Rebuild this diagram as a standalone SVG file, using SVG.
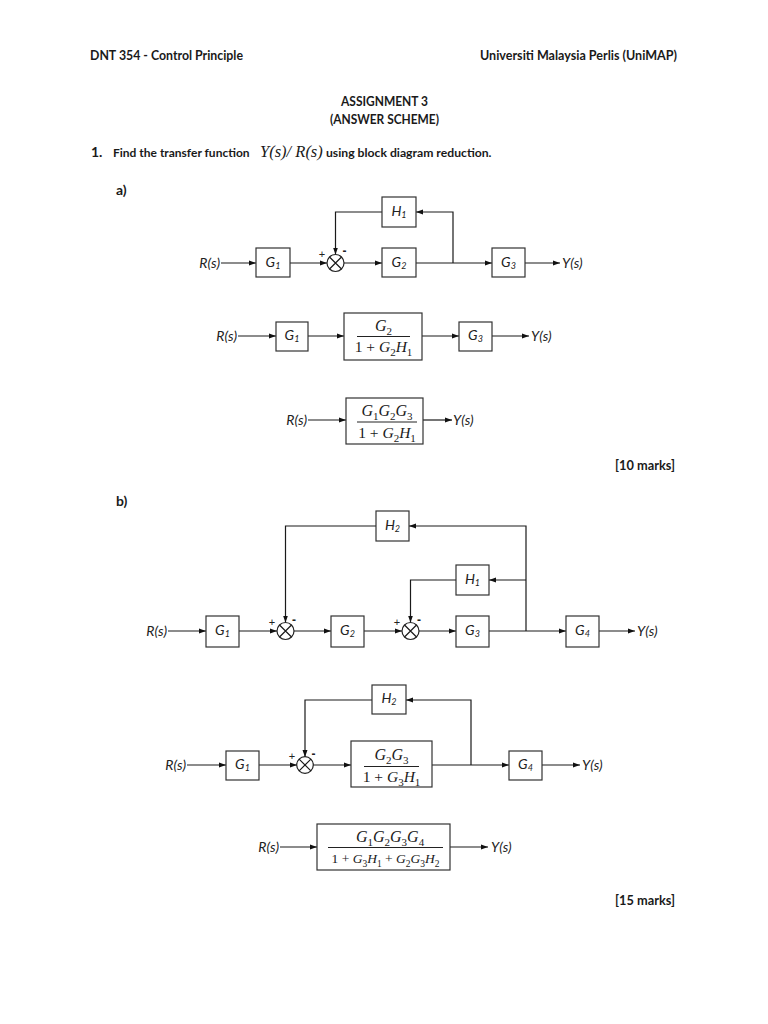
<svg xmlns="http://www.w3.org/2000/svg" width="768" height="1024" viewBox="0 0 768 1024">
<style>
.hd{font-family:Lato,"Open Sans","Liberation Sans",sans-serif;font-weight:bold;font-size:14px;fill:#1a1a1a}
.lb{font-family:Lato,"Open Sans","Liberation Sans",sans-serif;font-style:italic;font-size:14px;fill:#222}
.sg{font-family:"Liberation Sans",sans-serif;font-size:11px;fill:#222}
.mi{font-family:"Liberation Sans",sans-serif;font-size:12px;font-weight:bold;fill:#222}
.mt{font-family:"Liberation Serif",serif;font-size:16px;fill:#1a1a1a}
.it{font-style:italic}
.box{fill:#fff;stroke:#333;stroke-width:1.2}
.sum{fill:#fff;stroke:#222;stroke-width:1.2}
.ln{fill:none;stroke:#1a1a1a;stroke-width:1.2}
.fr{stroke:#222;stroke-width:1}
</style>
<defs>
<marker id="ah" viewBox="0 0 7 6" refX="7" refY="3" markerWidth="7" markerHeight="6" orient="auto" markerUnits="userSpaceOnUse"><path d="M0,0.5 L7,3 L0,5.5 z" fill="#111"/></marker>
</defs>
<rect width="768" height="1024" fill="#fff"/>

<g id="header">
<text class="hd" x="90" y="60" textLength="153" lengthAdjust="spacingAndGlyphs">DNT 354 - Control Principle</text>
<text class="hd" x="480" y="60" textLength="197" lengthAdjust="spacingAndGlyphs">Universiti Malaysia Perlis (UniMAP)</text>
<text class="hd" x="341" y="106" textLength="87" lengthAdjust="spacingAndGlyphs">ASSIGNMENT 3</text>
<text class="hd" x="330" y="124" textLength="109" lengthAdjust="spacingAndGlyphs">(ANSWER SCHEME)</text>
<text class="hd" x="91" y="157">1.</text>
<text class="hd" x="113" y="157" style="font-size:12px">Find the transfer function<tspan x="260" style="font-family:'Liberation Serif',serif;font-weight:normal;font-style:italic;font-size:16.5px">Y(s)/ R(s)</tspan><tspan x="326" style="font-size:12.2px">using block diagram reduction.</tspan></text>
<text class="hd" x="116" y="195">a)</text>
<text class="hd" x="615" y="470" textLength="60" lengthAdjust="spacingAndGlyphs">[10 marks]</text>
<text class="hd" x="116" y="506">b)</text>
<text class="hd" x="615" y="905" textLength="60" lengthAdjust="spacingAndGlyphs">[15 marks]</text>
</g>

<!-- Part a, diagram 1 -->
<g id="a1-connectors">
<path class="ln" d="M221,263 H256" marker-end="url(#ah)"/>
<path class="ln" d="M290,263 H327" marker-end="url(#ah)"/>
<path class="ln" d="M344,263 H382" marker-end="url(#ah)"/>
<path class="ln" d="M416,263 H492" marker-end="url(#ah)"/>
<path class="ln" d="M525,263 H560" marker-end="url(#ah)"/>
<path class="ln" d="M453,263 V212 H416" marker-end="url(#ah)"/>
<path class="ln" d="M382,212 H335.5 V254.5" marker-end="url(#ah)"/>
</g>
<g id="a1-R"><text class="lb" x="220" y="268" text-anchor="end">R(s)</text></g>
<g id="a1-G1"><rect class="box" x="256" y="248" width="34" height="29"/><text class="lb" x="273" y="267" text-anchor="middle">G<tspan font-size="9" dy="2">1</tspan></text></g>
<g id="a1-S"><circle class="sum" cx="335.5" cy="263" r="8.5"/><path class="ln" d="M329.5,257 L341.5,269 M341.5,257 L329.5,269"/><text class="sg" x="322" y="258" text-anchor="middle">+</text><text class="mi" x="344.5" y="255" text-anchor="middle">-</text></g>
<g id="a1-G2"><rect class="box" x="382" y="248" width="34" height="29"/><text class="lb" x="399" y="267" text-anchor="middle">G<tspan font-size="9" dy="2">2</tspan></text></g>
<g id="a1-H1"><rect class="box" x="382" y="197" width="34" height="30"/><text class="lb" x="399" y="216" text-anchor="middle">H<tspan font-size="9" dy="2">1</tspan></text></g>
<g id="a1-G3"><rect class="box" x="492" y="248" width="33" height="29"/><text class="lb" x="508.5" y="267" text-anchor="middle">G<tspan font-size="9" dy="2">3</tspan></text></g>
<g id="a1-Y"><text class="lb" x="562" y="268">Y(s)</text></g>

<!-- Part a, diagram 2 -->
<g id="a2-connectors">
<path class="ln" d="M238,336 H276" marker-end="url(#ah)"/>
<path class="ln" d="M308,336 H344" marker-end="url(#ah)"/>
<path class="ln" d="M422,336 H459" marker-end="url(#ah)"/>
<path class="ln" d="M492,336 H529" marker-end="url(#ah)"/>
</g>
<g id="a2-R"><text class="lb" x="237" y="341" text-anchor="end">R(s)</text></g>
<g id="a2-G1"><rect class="box" x="276" y="322" width="32" height="29"/><text class="lb" x="292" y="340" text-anchor="middle">G<tspan font-size="9" dy="2">1</tspan></text></g>
<g id="a2-F"><rect class="box" x="344" y="313" width="78" height="47"/>
<text class="mt" x="383.5" y="331" text-anchor="middle"><tspan class="it">G</tspan><tspan font-size="11" dy="3.5">2</tspan></text>
<line class="fr" x1="357" y1="336.5" x2="410" y2="336.5"/>
<text class="mt" x="383.5" y="352" text-anchor="middle" style="font-size:15.5px">1 + <tspan class="it">G</tspan><tspan font-size="11" dy="3.5">2</tspan><tspan class="it" dy="-3.5">H</tspan><tspan font-size="11" dy="3.5">1</tspan></text></g>
<g id="a2-G3"><rect class="box" x="459" y="322" width="33" height="29"/><text class="lb" x="475.5" y="340" text-anchor="middle">G<tspan font-size="9" dy="2">3</tspan></text></g>
<g id="a2-Y"><text class="lb" x="531" y="341">Y(s)</text></g>

<!-- Part a, diagram 3 -->
<g id="a3-connectors">
<path class="ln" d="M308,420 H346" marker-end="url(#ah)"/>
<path class="ln" d="M423,420 H452" marker-end="url(#ah)"/>
</g>
<g id="a3-R"><text class="lb" x="307" y="425" text-anchor="end">R(s)</text></g>
<g id="a3-F"><rect class="box" x="346" y="398" width="77" height="46"/>
<text class="mt" x="387" y="416" text-anchor="middle"><tspan class="it">G</tspan><tspan font-size="11" dy="3.5">1</tspan><tspan class="it" dy="-3.5">G</tspan><tspan font-size="11" dy="3.5">2</tspan><tspan class="it" dy="-3.5">G</tspan><tspan font-size="11" dy="3.5">3</tspan></text>
<line class="fr" x1="357" y1="422" x2="417" y2="422"/>
<text class="mt" x="387" y="438" text-anchor="middle" style="font-size:15.5px">1 + <tspan class="it">G</tspan><tspan font-size="11" dy="3.5">2</tspan><tspan class="it" dy="-3.5">H</tspan><tspan font-size="11" dy="3.5">1</tspan></text></g>
<g id="a3-Y"><text class="lb" x="453" y="425">Y(s)</text></g>

<!-- Part b, diagram 1 -->
<g id="b1-connectors">
<path class="ln" d="M168,631 H206" marker-end="url(#ah)"/>
<path class="ln" d="M239,631 H277" marker-end="url(#ah)"/>
<path class="ln" d="M294,631 H331" marker-end="url(#ah)"/>
<path class="ln" d="M364,631 H402" marker-end="url(#ah)"/>
<path class="ln" d="M419,631 H456" marker-end="url(#ah)"/>
<path class="ln" d="M489,631 H566" marker-end="url(#ah)"/>
<path class="ln" d="M599,631 H635" marker-end="url(#ah)"/>
<path class="ln" d="M526,631 V526 H409" marker-end="url(#ah)"/>
<path class="ln" d="M376,526 H285.5 V622.5" marker-end="url(#ah)"/>
<path class="ln" d="M526,580 H489" marker-end="url(#ah)"/>
<path class="ln" d="M456,580 H410.5 V622.5" marker-end="url(#ah)"/>
</g>
<g id="b1-R"><text class="lb" x="167" y="636" text-anchor="end">R(s)</text></g>
<g id="b1-G1"><rect class="box" x="206" y="616" width="33" height="31"/><text class="lb" x="222.5" y="635" text-anchor="middle">G<tspan font-size="9" dy="2">1</tspan></text></g>
<g id="b1-S1"><circle class="sum" cx="285.5" cy="631" r="8.5"/><path class="ln" d="M279.5,625 L291.5,637 M291.5,625 L279.5,637"/><text class="sg" x="272" y="626" text-anchor="middle">+</text><text class="mi" x="294" y="624" text-anchor="middle">-</text></g>
<g id="b1-G2"><rect class="box" x="331" y="616" width="33" height="31"/><text class="lb" x="347.5" y="635" text-anchor="middle">G<tspan font-size="9" dy="2">2</tspan></text></g>
<g id="b1-S2"><circle class="sum" cx="410.5" cy="631" r="8.5"/><path class="ln" d="M404.5,625 L416.5,637 M416.5,625 L404.5,637"/><text class="sg" x="397" y="626" text-anchor="middle">+</text><text class="mi" x="419" y="624" text-anchor="middle">-</text></g>
<g id="b1-G3"><rect class="box" x="456" y="616" width="33" height="31"/><text class="lb" x="472.5" y="635" text-anchor="middle">G<tspan font-size="9" dy="2">3</tspan></text></g>
<g id="b1-G4"><rect class="box" x="566" y="616" width="33" height="31"/><text class="lb" x="582.5" y="635" text-anchor="middle">G<tspan font-size="9" dy="2">4</tspan></text></g>
<g id="b1-H1"><rect class="box" x="456" y="565" width="33" height="30"/><text class="lb" x="472.5" y="584" text-anchor="middle">H<tspan font-size="9" dy="2">1</tspan></text></g>
<g id="b1-H2"><rect class="box" x="376" y="511" width="33" height="30"/><text class="lb" x="392.5" y="530" text-anchor="middle">H<tspan font-size="9" dy="2">2</tspan></text></g>
<g id="b1-Y"><text class="lb" x="637" y="636">Y(s)</text></g>

<!-- Part b, diagram 2 -->
<g id="b2-connectors">
<path class="ln" d="M187,765 H226" marker-end="url(#ah)"/>
<path class="ln" d="M259,765 H297" marker-end="url(#ah)"/>
<path class="ln" d="M313,765 H351" marker-end="url(#ah)"/>
<path class="ln" d="M432,765 H509" marker-end="url(#ah)"/>
<path class="ln" d="M542,765 H580" marker-end="url(#ah)"/>
<path class="ln" d="M471,765 V700 H406" marker-end="url(#ah)"/>
<path class="ln" d="M372,700 H305 V757" marker-end="url(#ah)"/>
</g>
<g id="b2-R"><text class="lb" x="186" y="770" text-anchor="end">R(s)</text></g>
<g id="b2-G1"><rect class="box" x="226" y="751" width="33" height="29"/><text class="lb" x="242.5" y="769" text-anchor="middle">G<tspan font-size="9" dy="2">1</tspan></text></g>
<g id="b2-S"><circle class="sum" cx="305" cy="765" r="8.3"/><path class="ln" d="M299.1,759.1 L310.9,770.9 M310.9,759.1 L299.1,770.9"/><text class="sg" x="292" y="760" text-anchor="middle">+</text><text class="mi" x="313.5" y="758" text-anchor="middle">-</text></g>
<g id="b2-F"><rect class="box" x="351" y="741" width="81" height="46"/>
<text class="mt" x="391.5" y="760" text-anchor="middle"><tspan class="it">G</tspan><tspan font-size="11" dy="3.5">2</tspan><tspan class="it" dy="-3.5">G</tspan><tspan font-size="11" dy="3.5">3</tspan></text>
<line class="fr" x1="364" y1="766.5" x2="419" y2="766.5"/>
<text class="mt" x="391.5" y="782" text-anchor="middle" style="font-size:15.5px">1 + <tspan class="it">G</tspan><tspan font-size="11" dy="3.5">3</tspan><tspan class="it" dy="-3.5">H</tspan><tspan font-size="11" dy="3.5">1</tspan></text></g>
<g id="b2-H2"><rect class="box" x="372" y="685" width="34" height="29"/><text class="lb" x="389" y="703" text-anchor="middle">H<tspan font-size="9" dy="2">2</tspan></text></g>
<g id="b2-G4"><rect class="box" x="509" y="751" width="33" height="29"/><text class="lb" x="525.5" y="769" text-anchor="middle">G<tspan font-size="9" dy="2">4</tspan></text></g>
<g id="b2-Y"><text class="lb" x="582" y="770">Y(s)</text></g>

<!-- Part b, diagram 3 -->
<g id="b3-connectors">
<path class="ln" d="M280,847 H317" marker-end="url(#ah)"/>
<path class="ln" d="M450,847 H488" marker-end="url(#ah)"/>
</g>
<g id="b3-R"><text class="lb" x="279" y="852" text-anchor="end">R(s)</text></g>
<g id="b3-F"><rect class="box" x="317" y="824" width="133" height="46"/>
<text class="mt" x="390" y="842" text-anchor="middle"><tspan class="it">G</tspan><tspan font-size="11" dy="3.5">1</tspan><tspan class="it" dy="-3.5">G</tspan><tspan font-size="11" dy="3.5">2</tspan><tspan class="it" dy="-3.5">G</tspan><tspan font-size="11" dy="3.5">3</tspan><tspan class="it" dy="-3.5">G</tspan><tspan font-size="11" dy="3.5">4</tspan></text>
<line class="fr" x1="328" y1="847.5" x2="443" y2="847.5"/>
<text class="mt" x="385.5" y="863" text-anchor="middle" style="font-size:13.5px">1 + <tspan class="it">G</tspan><tspan font-size="9.5" dy="3.5">3</tspan><tspan class="it" dy="-3.5">H</tspan><tspan font-size="9.5" dy="3.5">1</tspan><tspan dy="-3.5"> + </tspan><tspan class="it">G</tspan><tspan font-size="9.5" dy="3.5">2</tspan><tspan class="it" dy="-3.5">G</tspan><tspan font-size="9.5" dy="3.5">3</tspan><tspan class="it" dy="-3.5">H</tspan><tspan font-size="9.5" dy="3.5">2</tspan></text></g>
<g id="b3-Y"><text class="lb" x="491" y="852">Y(s)</text></g>
</svg>
